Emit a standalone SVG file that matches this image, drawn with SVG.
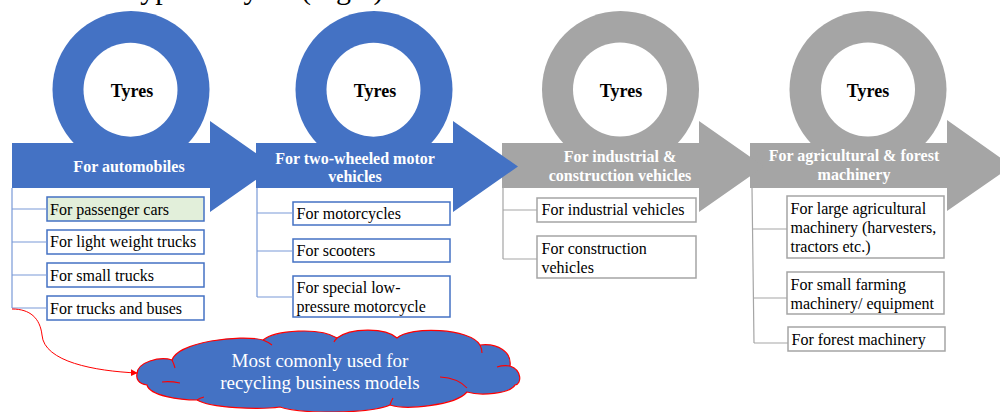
<svg xmlns="http://www.w3.org/2000/svg" width="1000" height="412" viewBox="0 0 1000 412">
<style>
.rb{fill:#4472C4}
.rg{fill:#A5A5A5}
.hole{fill:#FFFFFF}
.tyres{font-family:"Liberation Serif",serif;font-weight:bold;font-size:18px;fill:#000;text-anchor:middle}
.lab{font-family:"Liberation Serif",serif;font-weight:bold;font-size:16px;fill:#FFFFFF;text-anchor:middle}
.item{font-family:"Liberation Serif",serif;font-size:16px;fill:#000}
.bb{fill:#FFFFFF;stroke:#4472C4;stroke-width:1.5}
.bg{fill:#FFFFFF;stroke:#A5A5A5;stroke-width:1.5}
.lb{fill:none;stroke:#7A9AD8;stroke-width:1.2}
.lg{fill:none;stroke:#A5A5A5;stroke-width:1.2}
.cloudtxt{font-family:"Liberation Serif",serif;font-size:19px;fill:#FFFFFF;text-anchor:middle}
.inner{fill:none;stroke:#FF0000;stroke-width:1.1}
.title{font-family:"Liberation Serif",serif;font-size:30px;fill:#000}
</style>
<defs>
<marker id="redArrow" viewBox="0 0 10 10" refX="9" refY="5" markerWidth="7" markerHeight="7" orient="auto" markerUnits="userSpaceOnUse">
<path d="M0,0 L10,5 L0,10 Z" fill="#FF0000"/>
</marker>
</defs>
<text class="title" x="124" y="-1.5">Types of tyres (Fig.1)</text>

<g id="col4">
<circle class="rg" cx="868" cy="89.5" r="78.5"/>
<circle class="hole" cx="868" cy="89.5" r="47"/>
<text class="tyres" x="868" y="97">Tyres</text>
<polygon class="rg" points="750,143 947,143 947,120 1012,166 947,211 947,188 750,188"/>
<text class="lab" x="854" y="161">For agricultural &amp; forest</text>
<text class="lab" x="854" y="180">machinery</text>
</g>
<g id="col3">
<circle class="rg" cx="620.5" cy="89.5" r="78.5"/>
<circle class="hole" cx="620" cy="89.5" r="47"/>
<text class="tyres" x="621" y="97">Tyres</text>
<polygon class="rg" points="502,143 699,143 699,121 764,166.5 699,212 699,188 502,188"/>
<text class="lab" x="620" y="162">For industrial &amp;</text>
<text class="lab" x="620" y="181">construction vehicles</text>
</g>
<g id="col1">
<circle class="rb" cx="131" cy="89.5" r="78.5"/>
<circle class="hole" cx="130.5" cy="89.7" r="47"/>
<text class="tyres" x="132" y="97">Tyres</text>
<polygon class="rb" points="12,143 210,143 210,121 275,166.5 210,212 210,188 12,188"/>
<text class="lab" x="129" y="172">For automobiles</text>
</g>
<g id="col2">
<circle class="rb" cx="374" cy="89.5" r="78.5"/>
<circle class="hole" cx="373.5" cy="89.7" r="47"/>
<text class="tyres" x="375" y="97">Tyres</text>
<polygon class="rb" points="256,143 453,143 453,121 518,166.5 453,212 453,188 256,188"/>
<text class="lab" x="355" y="163.5">For two-wheeled motor</text>
<text class="lab" x="355" y="182">vehicles</text>
</g>

<g id="item-passenger"><rect class="bb" x="47" y="197" width="157" height="24" style="fill:#E2EFDA"/><text class="item" x="50" y="214.5">For passenger cars</text></g>
<g id="item-lighttrucks"><rect class="bb" x="47" y="230" width="157" height="24"/><text class="item" x="50" y="247">For light weight trucks</text></g>
<g id="item-smalltrucks"><rect class="bb" x="47" y="263" width="157" height="24"/><text class="item" x="50" y="280.5">For small trucks</text></g>
<g id="item-trucksbuses"><rect class="bb" x="47" y="296" width="157" height="24"/><text class="item" x="50" y="313.5">For trucks and buses</text></g>

<g id="item-motorcycles"><rect class="bb" x="293" y="202" width="157" height="23"/><text class="item" x="296.5" y="218.7">For motorcycles</text></g>
<g id="item-scooters"><rect class="bb" x="293" y="239" width="157" height="23"/><text class="item" x="296.5" y="256">For scooters</text></g>
<g id="item-lowpressure"><rect class="bb" x="293" y="276" width="157" height="41"/><text class="item" x="296.5" y="292.5">For special low-</text><text class="item" x="296.5" y="311.5">pressure motorcycle</text></g>

<g id="item-industrial"><rect class="bg" x="537" y="198" width="159" height="24"/><text class="item" x="541.5" y="215">For industrial vehicles</text></g>
<g id="item-construction"><rect class="bg" x="537" y="236" width="159" height="42"/><text class="item" x="541.5" y="254">For construction</text><text class="item" x="541.5" y="273">vehicles</text></g>

<g id="item-largeagri"><rect class="bg" x="787" y="196" width="157" height="62"/><text class="item" x="790.5" y="213.5">For large agricultural</text><text class="item" x="790.5" y="232.5">machinery (harvesters,</text><text class="item" x="790.5" y="251.5">tractors etc.)</text></g>
<g id="item-smallfarming"><rect class="bg" x="787" y="272" width="157" height="42"/><text class="item" x="790.5" y="289.5">For small farming</text><text class="item" x="790.5" y="309">machinery/ equipment</text></g>
<g id="item-forest"><rect class="bg" x="788" y="327" width="157" height="24"/><text class="item" x="791.5" y="345">For forest machinery</text></g>

<g id="cloud">
<path d="M137,374 C137,362 160,356 172,360 C178,342 240,334 263,340 C275,330 320,327 337,338 C350,328 385,327 397,338 C410,326 470,328 480,345 C498,343 512,352 510,366 C522,370 522,384 515,385 C510,394 480,396 467,392 C455,406 405,410 390,405 C370,414 300,414 280,407 C260,410 210,408 197,400 C180,400 150,396 147,385 C138,384 136,378 137,374 Z" fill="#4472C4" stroke="#FF0000" stroke-width="1.2"/>
<path class="inner" d="M162,382 Q170,381 180,383 M172,360 Q174,364 175,368 M263,340 Q268,342 272,345 M337,338 Q335,340 334,342 M480,345 Q482,349 482,353 M497,367 Q503,365 510,366 M440,377 Q458,378 467,388 M390,405 Q391,401 393,398 M197,400 Q200,398 204,397"/>
<text class="cloudtxt" x="320" y="367">Most comonly used for</text>
<text class="cloudtxt" x="320" y="389">recycling business models</text>
</g>

<g id="connectors">
<path class="lb" d="M12,188 V308 M12,209 H47 M12,242 H47 M12,275 H47 M12,308 H47"/>
<path class="lb" d="M257,188 V297 M257,213 H293 M257,251 H293 M257,297 H293"/>
<path class="lg" d="M503,188 V259 M503,210 H537 M503,259 H537"/>
<path class="lg" d="M752,188 L754,343 M752.5,229 H787 M753.5,298 H787 M754,343 H788"/>
<path d="M12,309 C30,309 40,318 42,335 C44,362 95,371 137,373" fill="none" stroke="#FF0000" stroke-width="1" marker-end="url(#redArrow)"/>
</g>
</svg>
